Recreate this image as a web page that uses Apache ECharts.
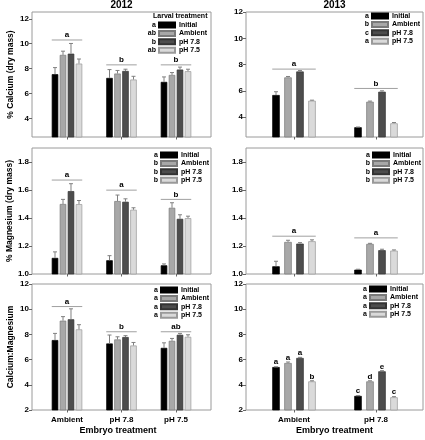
<!DOCTYPE html>
<html>
<head>
<meta charset="utf-8">
<script src="https://cdn.jsdelivr.net/npm/echarts@6/dist/echarts.min.js"></script>
<style>html,body{margin:0;padding:0;background:#fff;}#c{width:425px;height:440px;}</style>
</head>
<body>
<div id="c"></div>
<script>
// ---------------- DATA ----------------
const larval = ['Initial', 'Ambient', 'pH 7.8', 'pH 7.5'];
const embryo2012 = ['Ambient', 'pH 7.8', 'pH 7.5'];
const embryo2013 = ['Ambient', 'pH 7.8'];

// rows = larval treatment, columns = embryo treatment
const ca2012Mean = [[7.55, 7.25, 6.93], [9.10, 7.60, 7.49], [9.20, 7.81, 7.92], [8.40, 7.12, 7.79]];
const ca2012Se   = [[0.53, 0.67, 0.40], [0.30, 0.25, 0.19], [0.82, 0.14, 0.20], [0.37, 0.26, 0.16]];
const ca2012GroupLetters = ['a', 'b', 'b'];
const ca2012GroupLevel = [10.3, 8.3, 8.3];
const ca2012LegendLetters = ['a', 'ab', 'b', 'ab'];

const ca2013Mean = [[5.69, 3.24], [7.03, 5.18], [7.48, 5.94], [5.26, 3.54]];
const ca2013Se   = [[0.25, 0.02], [0.07, 0.05], [0.07, 0.07], [0.04, 0.06]];
const ca2013GroupLetters = ['a', 'b'];
const ca2013GroupLevel = [7.66, 6.19];
const ca2013LegendLetters = ['a', 'b', 'c', 'a'];

const mg2012Mean = [[1.115, 1.098, 1.062], [1.500, 1.521, 1.473], [1.592, 1.516, 1.394], [1.499, 1.459, 1.399]];
const mg2012Se   = [[0.043, 0.033, 0.010], [0.033, 0.043, 0.036], [0.053, 0.021, 0.029], [0.026, 0.014, 0.014]];
const mg2012GroupLetters = ['a', 'a', 'b'];
const mg2012GroupLevel = [1.671, 1.599, 1.533];
const mg2012LegendLetters = ['a', 'b', 'b', 'b'];

const mg2013Mean = [[1.055, 1.031], [1.229, 1.215], [1.217, 1.170], [1.234, 1.167]];
const mg2013Se   = [[0.036, 0.003], [0.012, 0.004], [0.007, 0.007], [0.010, 0.005]];
const mg2013GroupLetters = ['a', 'a'];
const mg2013GroupLevel = [1.27, 1.258];
const mg2013LegendLetters = ['a', 'b', 'b', 'b'];

const camg2012Mean = [[7.55, 7.28, 6.93], [9.09, 7.60, 7.49], [9.20, 7.79, 7.97], [8.40, 7.12, 7.81]];
const camg2012Se   = [[0.53, 0.67, 0.40], [0.32, 0.21, 0.19], [0.83, 0.11, 0.11], [0.37, 0.24, 0.16]];
const camg2012GroupLetters = ['a', 'b', 'ab'];
const camg2012GroupLevel = [10.21, 8.21, 8.21];
const camg2012LegendLetters = ['a', 'a', 'a', 'a'];

const camg2013Mean = [[5.41, 3.12], [5.73, 4.27], [6.13, 5.07], [4.27, 3.01]];
const camg2013Se   = [[0.02, 0.02], [0.08, 0.05], [0.05, 0.05], [0.05, 0.05]];
const camg2013BarLetters = [['a', 'c'], ['a', 'd'], ['a', 'e'], ['b', 'c']];
const camg2013LegendLetters = ['a', 'a', 'a', 'a'];

const yTicksCa = [4, 6, 8, 10, 12];
const yTicksMg = [1.0, 1.2, 1.4, 1.6, 1.8];
const yTicksRatio = [2, 4, 6, 8, 10, 12];

// ---------------- STYLE / LAYOUT ----------------
const FONT = "'Liberation Sans', Arial, sans-serif";
const fills = ['#000000', '#a8a8a8', '#4d4d4d', '#dadada'];
const borders = ['#000000', '#7a7a7a', '#333333', '#9a9a9a'];
const FRAME = '#9a9a9a';

const panels = [
  { cats: embryo2012, mean: ca2012Mean, se: ca2012Se, gl: ca2012GroupLetters, glv: ca2012GroupLevel, ll: ca2012LegendLetters,
    frame: [32, 12, 179, 125], data: [39.75, 12, 163.5, 125], bw: 6.5, gap: '23%', ymin: 2.5, ymax: 12.55, custom: yTicksCa,
    yname: '% Calcium (dry mass)', legendPos: [158, 20.8], xlabels: false },
  { cats: embryo2013, mean: ca2013Mean, se: ca2013Se, gl: ca2013GroupLetters, glv: ca2013GroupLevel, ll: ca2013LegendLetters,
    frame: [246, 12, 177, 125], data: [253, 12, 164, 125], bw: 7.5, gap: '60%', ymin: 2.5, ymax: 12, custom: yTicksCa,
    yname: '', legendPos: [371, 11.8], xlabels: false },
  { cats: embryo2012, mean: mg2012Mean, se: mg2012Se, gl: mg2012GroupLetters, glv: mg2012GroupLevel, ll: mg2012LegendLetters,
    frame: [32, 148, 179, 126], data: [39.75, 148, 163.5, 126], bw: 6.5, gap: '23%', ymin: 1.0, ymax: 1.9, custom: yTicksMg, dec: 1,
    yname: '% Magnesium (dry mass)', legendPos: [160, 150.8], xlabels: false },
  { cats: embryo2013, mean: mg2013Mean, se: mg2013Se, gl: mg2013GroupLetters, glv: mg2013GroupLevel, ll: mg2013LegendLetters,
    frame: [246, 148, 177, 126], data: [253, 148, 164, 126], bw: 7.5, gap: '60%', ymin: 1.0, ymax: 1.9, custom: yTicksMg, dec: 1,
    yname: '', legendPos: [372, 150.8], xlabels: false },
  { cats: embryo2012, mean: camg2012Mean, se: camg2012Se, gl: camg2012GroupLetters, glv: camg2012GroupLevel, ll: camg2012LegendLetters,
    frame: [32, 284, 179, 126], data: [39.75, 284, 163.5, 126], bw: 6.5, gap: '23%', ymin: 2, ymax: 12, custom: yTicksRatio,
    yname: 'Calcium:Magnesium', legendPos: [160, 285.8], xlabels: true },
  { cats: embryo2013, mean: camg2013Mean, se: camg2013Se, gl: null, glv: null, ll: camg2013LegendLetters, barLetters: camg2013BarLetters,
    frame: [246, 284, 177, 126], data: [253, 284, 164, 126], bw: 7.5, gap: '60%', ymin: 2, ymax: 12, custom: yTicksRatio,
    yname: '', legendPos: [369, 284.8], xlabels: true }
];

const grid = [], xAxis = [], yAxis = [], series = [], legend = [], graphic = [];
const NP = panels.length;

// frame grids (0..5)
panels.forEach((p, i) => {
  grid.push({ left: p.frame[0], top: p.frame[1], width: p.frame[2], height: p.frame[3],
    show: true, borderColor: FRAME, borderWidth: 1, backgroundColor: 'transparent' });
  xAxis.push({ type: 'value', gridIndex: i, show: false });
  yAxis.push({ type: 'value', gridIndex: i, show: false });
});

// data grids (6..11)
panels.forEach((p, i) => {
  const gi = NP + i;
  grid.push({ left: p.data[0], top: p.data[1], width: p.data[2], height: p.data[3], show: false });
  xAxis.push({
    type: 'category', gridIndex: gi, data: p.cats,
    axisLine: { show: false },
    axisTick: { show: true, alignWithLabel: true, length: 2.5, lineStyle: { color: '#666' } },
    axisLabel: { show: p.xlabels, fontFamily: FONT, fontWeight: 'bold', fontSize: 8, color: '#000', margin: 6 }
  });
  yAxis.push({
    type: 'value', gridIndex: gi, min: p.ymin, max: p.ymax,
    offset: p.data[0] - p.frame[0],
    splitLine: { show: false },
    axisLine: { show: false },
    axisTick: { show: true, length: 3, lineStyle: { color: '#666' }, customValues: p.custom },
    axisLabel: { fontFamily: FONT, fontWeight: 'bold', fontSize: 8, color: '#000', margin: 3, customValues: p.custom,
      formatter: v => p.dec ? Number(v).toFixed(p.dec) : String(v) },
    name: p.yname, nameLocation: 'middle', nameGap: 17, nameRotate: 90,
    nameTextStyle: { fontFamily: FONT, fontWeight: 'bold', fontSize: 8.5, color: '#000' }
  });

  // bars
  larval.forEach((name, s) => {
    const ser = {
      type: 'bar', name: name, xAxisIndex: gi, yAxisIndex: gi,
      data: p.mean[s], barWidth: p.bw, barGap: p.gap,
      itemStyle: { color: fills[s], borderColor: borders[s], borderWidth: 0.7 },
      emphasis: { disabled: true }, animation: false
    };
    if (p.barLetters) {
      ser.label = { show: true, position: 'top', distance: 1, fontFamily: FONT, fontWeight: 'bold', fontSize: 8, color: '#000',
        formatter: prm => p.barLetters[s][prm.dataIndex] };
    }
    series.push(ser);
  });

  // error bars
  const gapPx = p.bw * parseFloat(p.gap) / 100;
  const step = p.bw + gapPx;
  const errData = [];
  larval.forEach((name, s) => {
    p.mean[s].forEach((m, c) => errData.push([c, s, m, m + p.se[s][c]]));
  });
  series.push({
    type: 'custom', xAxisIndex: gi, yAxisIndex: gi, data: errData, silent: true, animation: false, z: 3,
    encode: { x: 0, y: [2, 3] },
    renderItem: (params, api) => {
      const c = api.value(0), s = api.value(1);
      const base = api.coord([c, api.value(2)]);
      const top = api.coord([c, api.value(3)]);
      const x = base[0] + (s - 1.5) * step;
      return { type: 'group', children: [
        { type: 'line', shape: { x1: x, y1: base[1], x2: x, y2: top[1] }, style: { stroke: '#808080', lineWidth: 1 } },
        { type: 'line', shape: { x1: x - 2, y1: top[1], x2: x + 2, y2: top[1] }, style: { stroke: '#808080', lineWidth: 1 } }
      ] };
    }
  });

  // group significance lines
  if (p.gl) {
    const half = (4 * p.bw + 3 * gapPx) / 2;
    series.push({
      type: 'custom', xAxisIndex: gi, yAxisIndex: gi, silent: true, animation: false, z: 4,
      data: p.glv.map((v, c) => [c, v]),
      encode: { x: 0, y: 1 },
      renderItem: (params, api) => {
        const pt = api.coord([api.value(0), api.value(1)]);
        return { type: 'group', children: [
          { type: 'line', shape: { x1: pt[0] - half, y1: pt[1], x2: pt[0] + half, y2: pt[1] }, style: { stroke: '#a0a0a0', lineWidth: 1 } },
          { type: 'text', x: pt[0], y: pt[1] - 1, style: { text: p.gl[params.dataIndex], textAlign: 'center', textVerticalAlign: 'bottom',
            font: 'bold 8px ' + FONT, fill: '#000' } }
        ] };
      }
    });
  }

  // legends
  legend.push({
    data: larval.map(n => ({ name: n, icon: 'rect' })), orient: 'vertical', left: p.legendPos[0], top: p.legendPos[1], padding: 0,
    itemWidth: 16, itemHeight: 5, itemGap: 0, selectedMode: false,
    textStyle: { fontFamily: FONT, fontWeight: 'bold', fontSize: 7, color: '#000', lineHeight: 8.4, padding: [0, 0, 0, -1] }
  });
  p.ll.forEach((l, k) => {
    graphic.push({ type: 'text', x: p.legendPos[0] - 2, y: p.legendPos[1] + 4.2 + k * 8.4,
      style: { text: l, textAlign: 'right', textVerticalAlign: 'middle', font: 'bold 7px ' + FONT, fill: '#000' } });
  });
});

const title = [
  { text: '2012', left: 121.5, top: 0, textAlign: 'center', padding: 0, textStyle: { fontFamily: FONT, fontWeight: 'bold', fontSize: 10, color: '#000' } },
  { text: '2013', left: 334.5, top: 0, textAlign: 'center', padding: 0, textStyle: { fontFamily: FONT, fontWeight: 'bold', fontSize: 10, color: '#000' } },
  { text: 'Larval treatment', left: 153, top: 12.5, padding: 0, textStyle: { fontFamily: FONT, fontWeight: 'bold', fontSize: 7, color: '#000' } },
  { text: 'Embryo treatment', left: 118, top: 426, textAlign: 'center', padding: 0, textStyle: { fontFamily: FONT, fontWeight: 'bold', fontSize: 9, color: '#000' } },
  { text: 'Embryo treatment', left: 334.5, top: 426, textAlign: 'center', padding: 0, textStyle: { fontFamily: FONT, fontWeight: 'bold', fontSize: 9, color: '#000' } }
];

const chart = echarts.init(document.getElementById('c'), null, { renderer: 'canvas' });
chart.setOption({
  backgroundColor: '#fff', animation: false,
  title, grid, xAxis, yAxis, series, legend, graphic
});
</script>
</body>
</html>
